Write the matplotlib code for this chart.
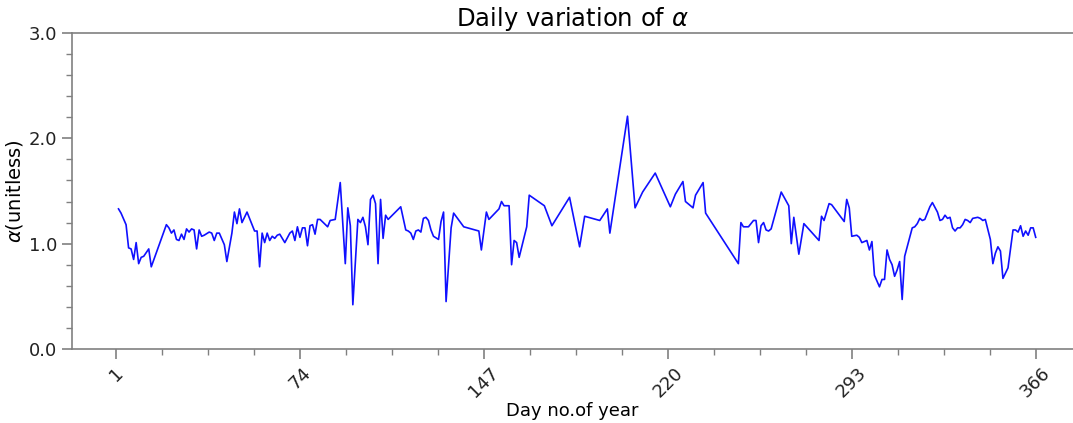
import numpy as np
import matplotlib
matplotlib.use('Agg')
import matplotlib.pyplot as plt
from matplotlib.ticker import FixedLocator, MultipleLocator

# day of year and alpha values
days = [2, 3, 5, 6, 7, 8, 9, 10, 11, 12, 14, 15, 21, 22, 23, 24, 25, 26, 27, 28,
        29, 30, 31, 32, 33, 34, 35, 36, 38, 39, 40, 41, 42, 44, 45, 47, 48, 49, 50, 51,
        53, 56, 57, 58, 59, 60, 61, 62, 63, 64, 65, 66, 68, 70, 71, 72, 73, 74, 75, 76,
        77, 78, 79, 80, 81, 82, 85, 86, 88, 90, 92, 93, 94, 95, 97, 98, 99, 100, 101, 102,
        103, 104, 105, 106, 107, 108, 109, 114, 116, 117, 118, 119, 120, 121, 122, 123, 124, 125, 126, 127,
        129, 130, 131, 132, 134, 135, 139, 145, 146, 148, 149, 153, 154, 155, 157, 158, 159, 160, 161, 164,
        165, 171, 174, 181, 185, 187, 193, 196, 197, 204, 207, 210, 215, 221, 223, 226, 227, 230, 231, 234,
        235, 248, 249, 250, 252, 254, 255, 256, 257, 258, 259, 260, 261, 265, 268, 269, 270, 272, 274, 280,
        281, 282, 284, 285, 290, 291, 292, 293, 295, 296, 297, 299, 300, 301, 302, 304, 305, 306, 307, 308,
        309, 310, 311, 312, 313, 314, 317, 318, 319, 320, 321, 322, 324, 325, 327, 328, 329, 330, 331, 332,
        333, 334, 335, 336, 337, 338, 339, 340, 341, 343, 344, 345, 346, 348, 349, 350, 351, 352, 353, 355,
        357, 358, 359, 360, 361, 362, 363, 364, 365, 366]
alpha = [1.33, 1.29, 1.18, 0.96, 0.95, 0.85, 1.01, 0.81, 0.87, 0.88, 0.95, 0.78, 1.18, 1.15, 1.10, 1.13, 1.04, 1.03, 1.09, 1.04,
         1.14, 1.11, 1.14, 1.13, 0.95, 1.13, 1.07, 1.08, 1.11, 1.10, 1.03, 1.10, 1.10, 0.99, 0.83, 1.10, 1.30, 1.19, 1.33, 1.20,
         1.30, 1.12, 1.12, 0.78, 1.10, 1.01, 1.10, 1.03, 1.07, 1.05, 1.08, 1.09, 1.01, 1.10, 1.12, 1.03, 1.16, 1.06, 1.15, 1.15,
         0.98, 1.17, 1.18, 1.09, 1.23, 1.23, 1.16, 1.22, 1.23, 1.58, 0.81, 1.34, 1.17, 0.42, 1.23, 1.20, 1.25, 1.16, 0.99, 1.42,
         1.46, 1.38, 0.81, 1.42, 1.05, 1.27, 1.23, 1.35, 1.13, 1.12, 1.10, 1.04, 1.12, 1.13, 1.11, 1.24, 1.25, 1.22, 1.13, 1.07,
         1.04, 1.21, 1.30, 0.45, 1.15, 1.29, 1.16, 1.12, 0.94, 1.30, 1.23, 1.33, 1.40, 1.36, 1.36, 0.80, 1.03, 1.01, 0.87, 1.16,
         1.46, 1.36, 1.17, 1.44, 0.97, 1.26, 1.22, 1.33, 1.10, 2.21, 1.34, 1.49, 1.67, 1.35, 1.47, 1.59, 1.40, 1.34, 1.46, 1.58,
         1.29, 0.81, 1.20, 1.16, 1.16, 1.22, 1.22, 1.01, 1.17, 1.20, 1.13, 1.12, 1.14, 1.49, 1.36, 1.00, 1.25, 0.90, 1.19, 1.03,
         1.26, 1.22, 1.38, 1.37, 1.21, 1.42, 1.34, 1.07, 1.08, 1.06, 1.01, 1.03, 0.94, 1.02, 0.70, 0.59, 0.66, 0.66, 0.94, 0.85,
         0.80, 0.69, 0.75, 0.83, 0.47, 0.88, 1.15, 1.16, 1.19, 1.24, 1.22, 1.23, 1.35, 1.39, 1.30, 1.22, 1.23, 1.27, 1.24, 1.25,
         1.15, 1.12, 1.15, 1.15, 1.18, 1.23, 1.22, 1.20, 1.24, 1.25, 1.24, 1.22, 1.23, 1.04, 0.81, 0.91, 0.97, 0.93, 0.67, 0.77,
         1.13, 1.13, 1.11, 1.17, 1.07, 1.12, 1.08, 1.15, 1.15, 1.06]
xticks = [1, 74, 147, 220, 293, 366]
yticks = [0.0, 1.0, 2.0, 3.0]

fig = plt.figure(figsize=(10.73, 4.23), dpi=100)
ax = fig.add_axes([0.067, 0.175, 0.933, 0.747])

ax.plot(days, alpha, color='#1010ff', linewidth=1.2)

ax.set_xlim(-16.5, 380.8)
ax.set_ylim(0, 3.0)
ax.set_xticks(xticks)
ax.set_xticklabels([str(t) for t in xticks], rotation=45, fontsize=13)
ax.xaxis.set_minor_locator(FixedLocator(np.arange(1, 367, 18.25)))
ax.set_yticks(yticks)
ax.set_yticklabels(['{:.1f}'.format(t) for t in yticks], fontsize=13)
ax.yaxis.set_minor_locator(MultipleLocator(0.2))

grey = '#808080'
for s in ['left', 'bottom', 'top']:
    ax.spines[s].set_color(grey)
    ax.spines[s].set_linewidth(1.2)
ax.spines['right'].set_visible(False)
ax.tick_params(which='major', length=7, width=1.2, color=grey, colors='#222222')
ax.tick_params(which='minor', length=4, width=1.0, color=grey)
ax.tick_params(axis='both', which='both', color=grey)

ax.set_xlabel('Day no.of year', fontsize=13, labelpad=1)
ax.set_ylabel(r'$\alpha$(unitless)', fontsize=14, labelpad=3)
ax.set_title(r'Daily variation of $\alpha$', fontsize=17.5, pad=3)

fig.savefig('out.png', dpi=100)
